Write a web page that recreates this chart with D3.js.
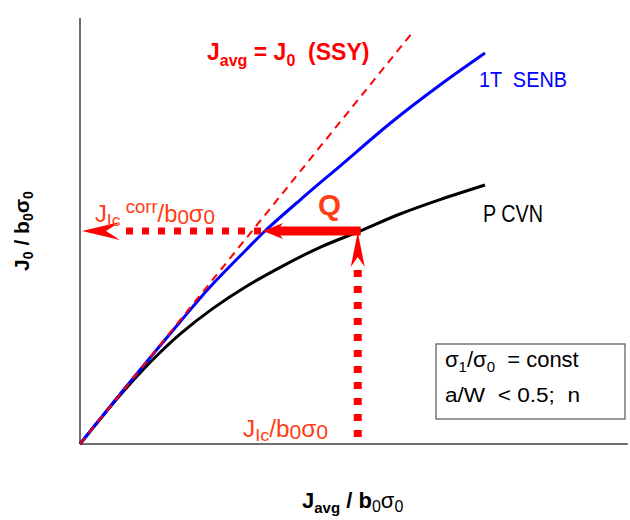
<!DOCTYPE html>
<html lang="en">
<head>
<meta charset="utf-8">
<title>J0 vs Javg</title>
<script src="https://d3js.org/d3.v7.min.js"></script>
<style>
  body { margin: 0; background: #fff; }
  text { font-family: "Liberation Sans", Arial, sans-serif; }
</style>
</head>
<body>
<script>
// chart values (both axes in arbitrary normalised units, 0..10)
var xDomain = [0, 10];
var yDomain = [0, 10];

// J_avg = J_0 line (SSY)
var ssyX = [0, 6.05];
var ssyY = [0, 9.67];

// 1T SENB curve
var senbX = [0, 0.909, 1.818, 2.364, 3.036, 3.364, 4.0, 4.727, 5.691, 6.545, 7.364];
var senbY = [0, 1.455, 2.864, 3.685, 4.578, 5.0, 5.727, 6.525, 7.582, 8.427, 9.178];

// P CVN curve
var cvnX = [0, 0.364, 0.727, 1.091, 1.455, 1.818, 2.418, 3.036, 3.691, 4.364, 5.091, 5.818, 6.545, 7.364];
var cvnY = [0, 0.580, 1.143, 1.669, 2.148, 2.580, 3.183, 3.709, 4.183, 4.617, 5.0, 5.399, 5.737, 6.08];

// construction points
var jIc = 5.05;      // J_Ic / b0 s0 on the P CVN curve
var jLevel = 5.0;    // J0 level reached
var jCorr = 3.364;   // where that level meets the SENB curve

var w = 630, h = 520;

var x = d3.scaleLinear().domain(xDomain).range([80, 630]);
var y = d3.scaleLinear().domain(yDomain).range([444, 18]);

var svg = d3.select("body").append("svg")
    .attr("width", w)
    .attr("height", h);

var line = d3.line()
    .x(function(d) { return x(d[0]); })
    .y(function(d) { return y(d[1]); })
    .curve(d3.curveCatmullRom.alpha(0.5));

// axes (plain lines, no ticks)
svg.append("line")
    .attr("x1", x(0)).attr("y1", y(0))
    .attr("x2", x(0)).attr("y2", y(10))
    .attr("stroke", "#6e6e6e").attr("stroke-width", 2);
svg.append("line")
    .attr("x1", x(0)).attr("y1", y(0))
    .attr("x2", x(9.96)).attr("y2", y(0))
    .attr("stroke", "#6e6e6e").attr("stroke-width", 2);

// curves
svg.append("path")
    .datum(d3.zip(cvnX, cvnY))
    .attr("d", line)
    .attr("fill", "none").attr("stroke", "#000").attr("stroke-width", 3);

svg.append("path")
    .datum(d3.zip(senbX, senbY))
    .attr("d", line)
    .attr("fill", "none").attr("stroke", "#0000ff").attr("stroke-width", 3);

svg.append("path")
    .datum(d3.zip(ssyX, ssyY))
    .attr("d", d3.line().x(function(d) { return x(d[0]); }).y(function(d) { return y(d[1]); }))
    .attr("fill", "none").attr("stroke", "#ff0000").attr("stroke-width", 2)
    .attr("stroke-dasharray", "8,6");

// construction arrows
var red = "#ff0000";
var qx = x(jIc), qy = y(jLevel), cx = x(jCorr);

// vertical dotted arrow from the x axis up to the CVN curve
svg.append("line")
    .attr("x1", qx).attr("y1", y(0) - 7)
    .attr("x2", qx).attr("y2", qy + 30)
    .attr("stroke", red).attr("stroke-width", 8)
    .attr("stroke-dasharray", "7,9");
svg.append("path")
    .attr("d", "M" + qx + "," + (qy + 1) + " L" + (qx + 7) + "," + (qy + 36) +
               " L" + qx + "," + (qy + 26) + " L" + (qx - 7) + "," + (qy + 36) + "Z")
    .attr("fill", red);

// solid horizontal arrow Q
svg.append("line")
    .attr("x1", qx + 3).attr("y1", qy)
    .attr("x2", cx + 12).attr("y2", qy)
    .attr("stroke", red).attr("stroke-width", 9);
svg.append("path")
    .attr("d", "M" + (cx - 2) + "," + qy + " L" + (cx + 18) + "," + (qy - 8) +
               " L" + (cx + 12) + "," + qy + " L" + (cx + 18) + "," + (qy + 8) + "Z")
    .attr("fill", red);

// dotted horizontal arrow to the y axis
svg.append("line")
    .attr("x1", cx - 4).attr("y1", qy)
    .attr("x2", x(0) + 38).attr("y2", qy)
    .attr("stroke", red).attr("stroke-width", 7)
    .attr("stroke-dasharray", "7,9");
svg.append("path")
    .attr("d", "M" + (x(0) + 2) + "," + qy + " L" + (x(0) + 40) + "," + (qy - 9) +
               " L" + (x(0) + 26) + "," + qy + " L" + (x(0) + 40) + "," + (qy + 9) + "Z")
    .attr("fill", red);

// texts (narrow face approximated with textLength)
function narrow(sel, len) {
  return sel.attr("textLength", len).attr("lengthAdjust", "spacingAndGlyphs");
}

var t1 = svg.append("text").attr("x", 207).attr("y", 60)
    .attr("fill", "#ff0000").attr("font-weight", "bold").attr("font-size", 23)
    .attr("xml:space", "preserve");
t1.append("tspan").text("J");
t1.append("tspan").attr("dy", 6).attr("font-size", 16).text("avg");
t1.append("tspan").attr("dy", -6).text(" = J");
t1.append("tspan").attr("dy", 6).attr("font-size", 16).text("0");
t1.append("tspan").attr("dy", -6).text("  (SSY)");

narrow(svg.append("text").attr("x", 479).attr("y", 87)
    .attr("fill", "#0000ff").attr("font-size", 22)
    .attr("xml:space", "preserve"), 88).text("1T  SENB");

narrow(svg.append("text").attr("x", 483).attr("y", 222)
    .attr("fill", "#000").attr("font-size", 23), 60).text("P CVN");

narrow(svg.append("text").attr("x", 318).attr("y", 215)
    .attr("fill", "#ff3c14").attr("font-weight", "bold").attr("font-size", 30), 23).text("Q");

var orange = "#ff3c14";
var t2 = narrow(svg.append("text").attr("x", 95).attr("y", 222)
    .attr("fill", orange).attr("font-size", 23), 120).attr("xml:space", "preserve");
t2.append("tspan").text("J");
t2.append("tspan").attr("dy", 4).attr("font-size", 17).text("Ic");
t2.append("tspan").attr("dy", -13).attr("font-size", 18).text(" corr");
t2.append("tspan").attr("dy", 9).text("/b");
t2.append("tspan").attr("dy", 2).attr("font-size", 20).text("0");
t2.append("tspan").attr("dy", -2).text("σ");
t2.append("tspan").attr("dy", 2).attr("font-size", 20).text("0");

var t3 = narrow(svg.append("text").attr("x", 243).attr("y", 437)
    .attr("fill", orange).attr("font-size", 23), 85);
t3.append("tspan").text("J");
t3.append("tspan").attr("dy", 4).attr("font-size", 17).text("Ic");
t3.append("tspan").attr("dy", -4).text("/b");
t3.append("tspan").attr("dy", 2).attr("font-size", 20).text("0");
t3.append("tspan").attr("dy", -2).text("σ");
t3.append("tspan").attr("dy", 2).attr("font-size", 20).text("0");

// parameter box
svg.append("rect")
    .attr("x", 436).attr("y", 344).attr("width", 189).attr("height", 75)
    .attr("fill", "#fff").attr("stroke", "#555").attr("stroke-width", 1.2);
var b1 = svg.append("text").attr("x", 445).attr("y", 367)
    .attr("fill", "#000").attr("font-size", 22)
    .attr("xml:space", "preserve");
b1.append("tspan").text("σ");
b1.append("tspan").attr("dy", 5).attr("font-size", 15).text("1");
b1.append("tspan").attr("dy", -5).text("/σ");
b1.append("tspan").attr("dy", 5).attr("font-size", 15).text("0");
b1.append("tspan").attr("dy", -5).text("  = const");
narrow(svg.append("text").attr("x", 445).attr("y", 402)
    .attr("fill", "#000").attr("font-size", 20)
    .attr("xml:space", "preserve"), 135).text("a/W  < 0.5;  n");

// axis titles
var xt = svg.append("text").attr("x", 302).attr("y", 508)
    .attr("fill", "#000").attr("font-weight", "bold").attr("font-size", 22);
xt.append("tspan").text("J");
xt.append("tspan").attr("dy", 5).attr("font-size", 15).text("avg");
xt.append("tspan").attr("dy", -5).text(" / b");
xt.append("tspan").attr("dy", 4).attr("font-size", 16).attr("font-weight", "normal").text("0");
xt.append("tspan").attr("dy", -4).attr("font-weight", "normal").text("σ");
xt.append("tspan").attr("dy", 4).attr("font-size", 16).attr("font-weight", "normal").text("0");

var yt = svg.append("text")
    .attr("transform", "translate(29,231) rotate(-90)")
    .attr("text-anchor", "middle")
    .attr("fill", "#000").attr("font-weight", "bold").attr("font-size", 21);
yt.append("tspan").text("J");
yt.append("tspan").attr("dy", 4).attr("font-size", 14).text("0");
yt.append("tspan").attr("dy", -4).text(" / b");
yt.append("tspan").attr("dy", 4).attr("font-size", 14).text("0");
yt.append("tspan").attr("dy", -4).text("σ");
yt.append("tspan").attr("dy", 4).attr("font-size", 14).text("0");
</script>
</body>
</html>
